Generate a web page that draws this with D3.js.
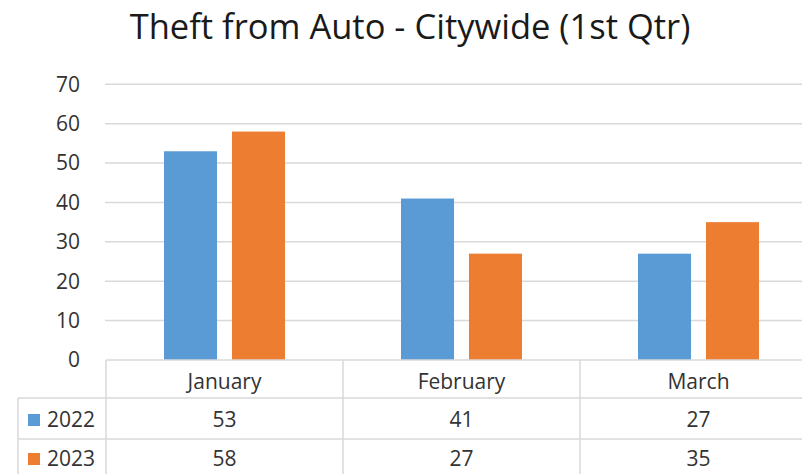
<!DOCTYPE html>
<html>
<head>
<meta charset="utf-8">
<script src="https://cdn.jsdelivr.net/npm/d3@7"></script>
<style>
  body { margin: 0; background: #fff; }
  text { font-family: "Open Sans", sans-serif; fill: #333; }
</style>
</head>
<body>
<script>
// chart values
const categories = ["January", "February", "March"];
const series = ["2022", "2023"];
const values2022 = [53, 41, 27];
const values2023 = [58, 27, 35];
const yTicks = [0, 10, 20, 30, 40, 50, 60, 70];
const colors = ["#5b9bd5", "#ed7d31"];

const width = 802, height = 474;
const gridColor = "#d9d9d9";
const fontSize = "21px";

var svg = d3.select("body").append("svg")
    .attr("width", width)
    .attr("height", height);

// title
svg.append("text")
    .attr("x", 410)
    .attr("y", 39)
    .attr("text-anchor", "middle")
    .style("font-size", "34.5px")
    .style("fill", "#1a1a1a")
    .text("Theft from Auto - Citywide (1st Qtr)");

var y = d3.scaleLinear().domain([0, 70]).range([360, 84.3]);

var x0 = d3.scaleBand()
    .domain(categories)
    .range([106, 106 + 237 * 3]);

var x1 = d3.scaleBand()
    .domain(series)
    .range([58, 179])
    .paddingInner(0.22);

// gridlines
svg.append("g").selectAll("line")
    .data(yTicks.filter(d => d > 0))
    .join("line")
    .attr("x1", 105)
    .attr("x2", width)
    .attr("y1", d => y(d))
    .attr("y2", d => y(d))
    .attr("stroke", gridColor)
    .attr("stroke-width", 1.5);

// y labels
svg.append("g").selectAll("text")
    .data(yTicks)
    .join("text")
    .attr("x", 80)
    .attr("y", d => y(d))
    .attr("dy", "0.35em")
    .attr("text-anchor", "end")
    .style("font-size", fontSize)
    .text(d => d);

// bars
const seriesData = [values2022, values2023];
var groups = svg.append("g").selectAll("g")
    .data(categories)
    .join("g")
    .attr("transform", d => `translate(${x0(d)},0)`);

groups.selectAll("rect")
    .data((c, i) => series.map((s, j) => ({ s, v: seriesData[j][i], color: colors[j] })))
    .join("rect")
    .attr("x", d => x1(d.s))
    .attr("width", x1.bandwidth())
    .attr("y", d => y(d.v))
    .attr("height", d => y(0) - y(d.v))
    .attr("fill", d => d.color);

// data table
const rowTop = [360, 398, 439, 480];
var table = svg.append("g")
    .attr("stroke", gridColor)
    .attr("stroke-width", 1.5);

table.append("line")
    .attr("x1", 106).attr("x2", width)
    .attr("y1", rowTop[0]).attr("y2", rowTop[0]);
rowTop.slice(1, 3).forEach(ry => {
    table.append("line")
        .attr("x1", 18).attr("x2", width)
        .attr("y1", ry).attr("y2", ry);
});
table.append("line")
    .attr("x1", 18).attr("x2", 18)
    .attr("y1", rowTop[1]).attr("y2", height);
table.selectAll(".vcol")
    .data(categories)
    .join("line")
    .attr("x1", d => x0(d)).attr("x2", d => x0(d))
    .attr("y1", rowTop[0]).attr("y2", height);

// header labels
svg.append("g").selectAll("text")
    .data(categories)
    .join("text")
    .attr("x", d => x0(d) + x0.bandwidth() / 2)
    .attr("y", 389)
    .attr("text-anchor", "middle")
    .style("font-size", fontSize)
    .text(d => d);

// rows
series.forEach((s, j) => {
    const base = [427, 466][j];
    svg.append("rect")
        .attr("x", 28)
        .attr("y", base - 13)
        .attr("width", 12)
        .attr("height", 12)
        .attr("fill", colors[j]);
    svg.append("text")
        .attr("x", 47)
        .attr("y", base)
        .style("font-size", fontSize)
        .text(s);
    svg.append("g").selectAll("text")
        .data(categories)
        .join("text")
        .attr("x", d => x0(d) + x0.bandwidth() / 2)
        .attr("y", base)
        .attr("text-anchor", "middle")
        .style("font-size", fontSize)
        .text((d, i) => seriesData[j][i]);
});
</script>
</body>
</html>
